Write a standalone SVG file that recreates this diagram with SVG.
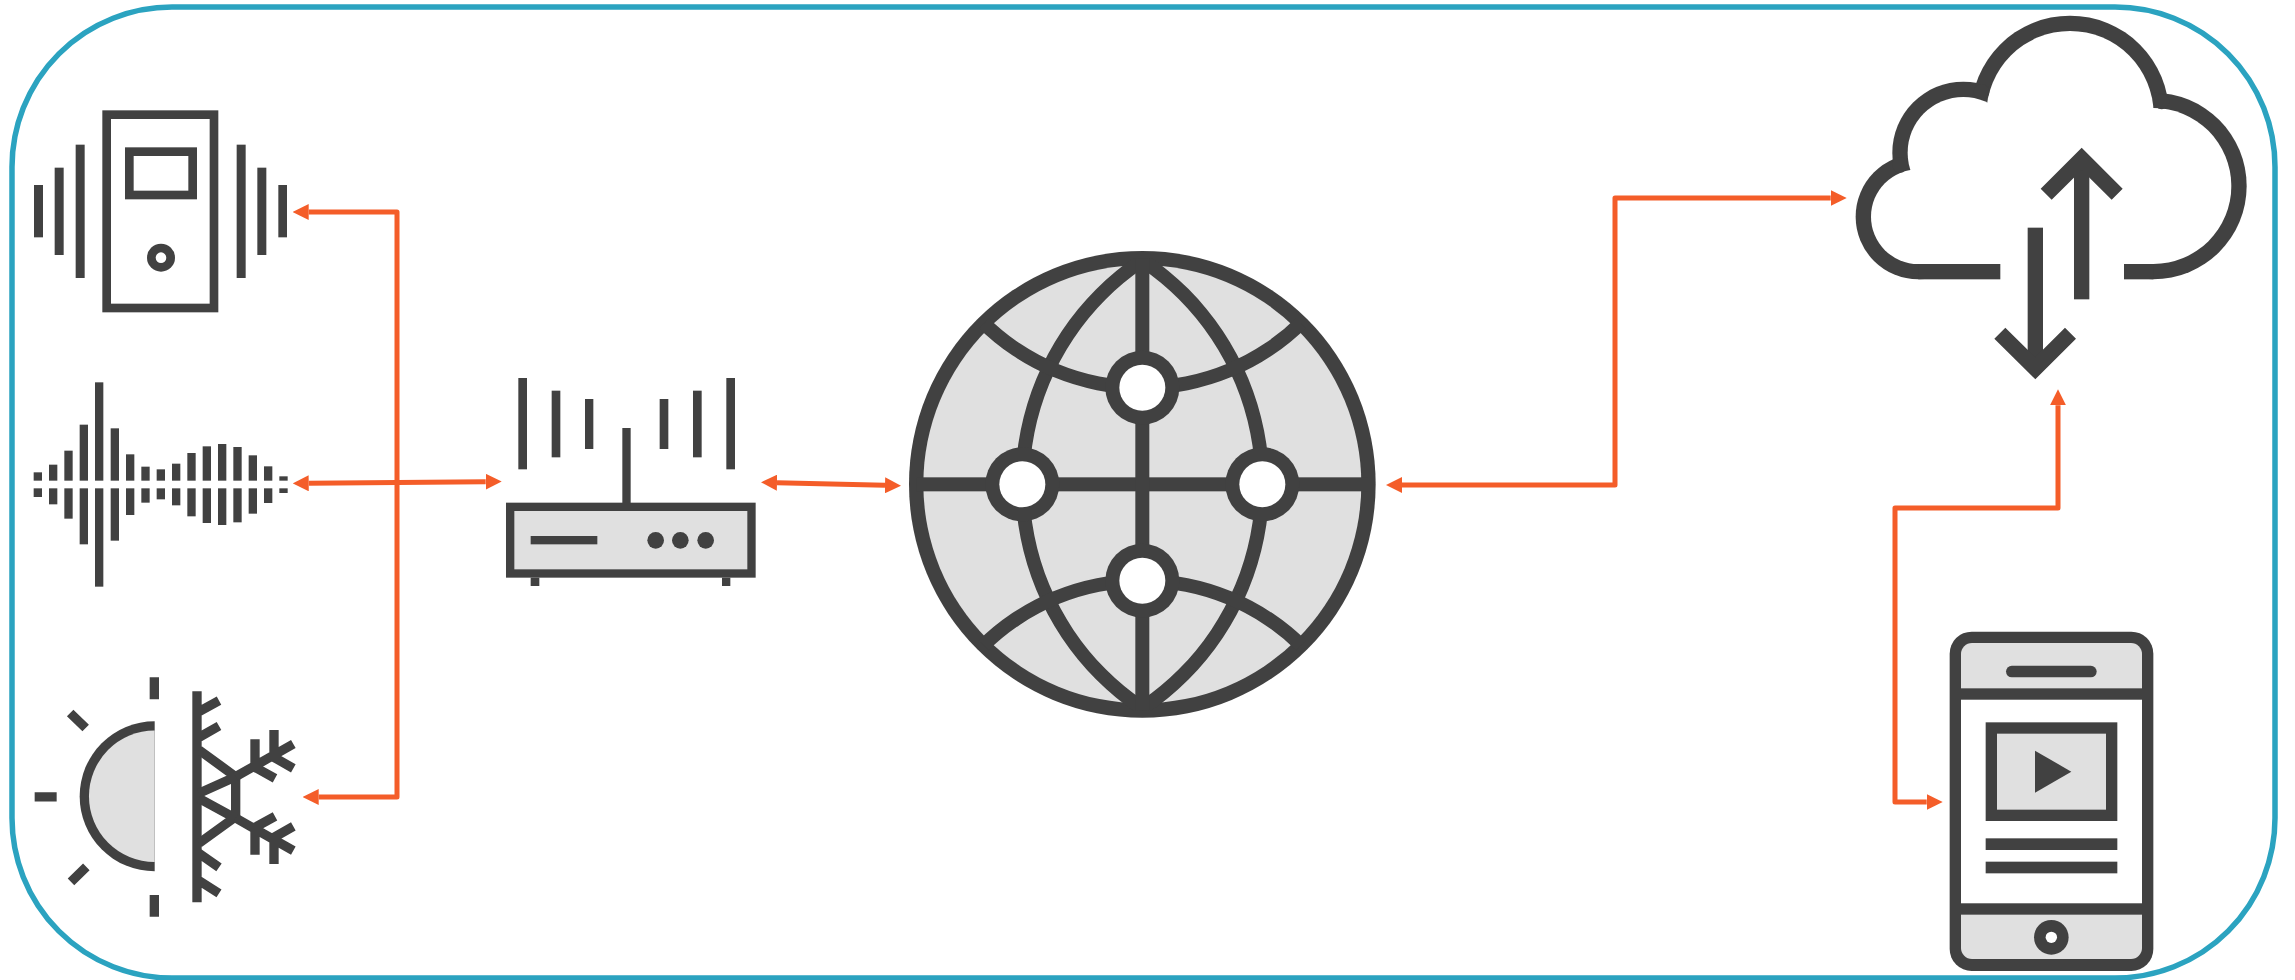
<svg xmlns="http://www.w3.org/2000/svg" width="2295" height="980" viewBox="0 0 2295 980">
<style>
.d{fill:#414141}
.l{fill:#e0e0e0}
.h{fill:#fff}
.s{fill:none;stroke:#414141}
.g{fill:#e0e0e0;stroke:#414141}
.c{fill:none;stroke:#f45d29;stroke-width:5;stroke-linejoin:round;marker-start:url(#ah);marker-end:url(#ah)}
</style>
<defs>
<marker id="ah" markerUnits="userSpaceOnUse" viewBox="0 0 16 16" markerWidth="16" markerHeight="16" refX="0" refY="8" orient="auto-start-reverse"><path d="M0,0L16,8L0,16Z" fill="#f45d29"/></marker>
<clipPath id="gl"><rect x="910" y="250" width="232.330" height="470"/></clipPath>
<clipPath id="gr"><rect x="1142.330" y="250" width="232" height="470"/></clipPath>
<clipPath id="gc"><circle cx="1142.330" cy="484.330" r="226"/></clipPath>
</defs>
<rect width="2295" height="980" fill="#fff"/>
<rect id="frame" x="12" y="7" width="2263" height="971" rx="160" ry="160" fill="#fff" stroke="#2ba3c0" stroke-width="5.500"/>

<g id="vibration-sensor">
<g transform="translate(0,80) scale(.33333)">
<rect class="s" x="320" y="104" width="322" height="580" stroke-width="26"/>
<rect class="s" x="388" y="215" width="190" height="130" stroke-width="26"/>
<rect class="d" x="102" y="315" width="27" height="157"/>
<rect class="d" x="164" y="263" width="27" height="262"/>
<rect class="d" x="227" y="194" width="27" height="400"/>
<rect class="d" x="710" y="194" width="27" height="400"/>
<rect class="d" x="772" y="263" width="27" height="262"/>
<rect class="d" x="835" y="315" width="26" height="157"/>
</g>
<circle class="d" cx="161" cy="257.670" r="14"/><circle class="h" cx="161" cy="257.670" r="5.300"/>
</g>

<g id="sound-sensor" transform="translate(0,360) scale(.33333)">
<rect class="d" x="101" y="337" width="25" height="25"/><rect class="d" x="101" y="385" width="25" height="26"/>
<rect class="d" x="147" y="314" width="25" height="48"/><rect class="d" x="147" y="385" width="25" height="48"/>
<rect class="d" x="193" y="272" width="25" height="90"/><rect class="d" x="193" y="385" width="25" height="91"/>
<rect class="d" x="239" y="194" width="25" height="168"/><rect class="d" x="239" y="385" width="25" height="168"/>
<rect class="d" x="285" y="67" width="25" height="295"/><rect class="d" x="285" y="385" width="25" height="295"/>
<rect class="d" x="332" y="205" width="25" height="157"/><rect class="d" x="332" y="385" width="25" height="157"/>
<rect class="d" x="378" y="283" width="25" height="79"/><rect class="d" x="378" y="385" width="25" height="80"/>
<rect class="d" x="424" y="320" width="25" height="42"/><rect class="d" x="424" y="385" width="25" height="43"/>
<rect class="d" x="470" y="328" width="25" height="34"/><rect class="d" x="470" y="385" width="25" height="33"/>
<rect class="d" x="516" y="311" width="25" height="51"/><rect class="d" x="516" y="385" width="25" height="51"/>
<rect class="d" x="562" y="279" width="25" height="83"/><rect class="d" x="562" y="385" width="25" height="84"/>
<rect class="d" x="608" y="259" width="25" height="103"/><rect class="d" x="608" y="385" width="25" height="104"/>
<rect class="d" x="654" y="252" width="25" height="110"/><rect class="d" x="654" y="385" width="25" height="110"/>
<rect class="d" x="700" y="261" width="25" height="101"/><rect class="d" x="700" y="385" width="25" height="102"/>
<rect class="d" x="746" y="286" width="25" height="76"/><rect class="d" x="746" y="385" width="25" height="76"/>
<rect class="d" x="792" y="319" width="25" height="43"/><rect class="d" x="792" y="385" width="25" height="44"/>
<rect class="d" x="838" y="349" width="25" height="13"/><rect class="d" x="838" y="385" width="25" height="14"/>
</g>

<g id="temperature-sensor">
<path class="d" d="M154.670,721.300A75,75 0 0 0 154.670,871.300Z"/>
<path class="l" d="M154.670,730.600A65.700,65.700 0 0 0 154.670,862Z"/>
<g class="s" stroke-width="28" transform="translate(0,650) scale(.33333)">
<path d="M463,82V148M463,735V800M104,440.500H170M210.500,189L257,234M213,695.500L259,650.500"/>
<path d="M591,124V757M597,185L657,152M597,262L657,228M597,610L657,652M597,692L657,730"/>
<path d="M597,300L707,380M597,430L707,380M597,445L707,505M597,580L707,500M707,375V510"/>
<path d="M707,380L880,282M765,345V268M765,352L825,385M822,320V240M822,322L880,355"/>
<path d="M707,504L880,602M765,539V614M765,532L825,499M822,564V642M822,562L880,529"/>
</g>
</g>

<g id="router">
<g transform="translate(480,360) scale(.33333)">
<rect class="d" x="427" y="204" width="25" height="230"/>
<rect class="g" x="90.500" y="440.500" width="724" height="200" stroke-width="25"/>
<rect class="d" x="152" y="653" width="26" height="25"/><rect class="d" x="726" y="653" width="25" height="25"/>
<rect class="d" x="115" y="54" width="26" height="274"/><rect class="d" x="215" y="92" width="26" height="200"/><rect class="d" x="315" y="117" width="25" height="150"/>
<rect class="d" x="539" y="117" width="26" height="150"/><rect class="d" x="639" y="92" width="26" height="200"/><rect class="d" x="739" y="54" width="26" height="274"/>
<rect class="d" x="152" y="528" width="200" height="25"/>
</g>
<circle class="d" cx="655.670" cy="540.330" r="8.330"/><circle class="d" cx="680.330" cy="540.330" r="8.330"/><circle class="d" cx="705.670" cy="540.330" r="8.330"/>
</g>

<g id="globe">
<circle class="d" cx="1142.330" cy="484.330" r="233.330"/>
<circle class="l" cx="1142.330" cy="484.330" r="219"/>
<g clip-path="url(#gc)">
<g clip-path="url(#gl)"><path class="d" fill-rule="evenodd" d="M1015.330,484.330a276,276 0 1 0 552,0a276,276 0 1 0 -552,0ZM1029.330,484.330a262,262 0 1 0 524,0a262,262 0 1 0 -524,0Z"/></g>
<g clip-path="url(#gr)"><path class="d" fill-rule="evenodd" d="M717.330,484.330a276,276 0 1 0 552,0a276,276 0 1 0 -552,0ZM731.330,484.330a262,262 0 1 0 524,0a262,262 0 1 0 -524,0Z"/></g>
<path class="d" fill-rule="evenodd" d="M908.330,160.670a234,234 0 1 0 468,0a234,234 0 1 0 -468,0ZM922.330,160.670a220,220 0 1 0 440,0a220,220 0 1 0 -440,0Z"/>
<path class="d" fill-rule="evenodd" d="M908.330,807.670a234,234 0 1 0 468,0a234,234 0 1 0 -468,0ZM922.330,807.670a220,220 0 1 0 440,0a220,220 0 1 0 -440,0Z"/>
<rect class="d" x="916" y="477.330" width="452" height="14"/>
<rect class="d" x="1135.330" y="258" width="14" height="452"/>
</g>
<circle class="d" cx="1142.330" cy="387.670" r="37"/><circle class="h" cx="1142.330" cy="387.670" r="23"/>
<circle class="d" cx="1022.330" cy="484.330" r="37"/><circle class="h" cx="1022.330" cy="484.330" r="23"/>
<circle class="d" cx="1262.330" cy="484.330" r="37"/><circle class="h" cx="1262.330" cy="484.330" r="23"/>
<circle class="d" cx="1142.330" cy="580.670" r="37"/><circle class="h" cx="1142.330" cy="580.670" r="23"/>
</g>

<g id="cloud">
<circle class="d" cx="1918.330" cy="216.670" r="62.670"/>
<circle class="d" cx="1963.330" cy="152.670" r="71"/>
<circle class="d" cx="2070" cy="114.670" r="99"/>
<circle class="d" cx="2153.330" cy="186" r="93.330"/>
<rect class="d" x="1918.330" y="200" width="235" height="79.330"/>
<circle class="h" cx="1918.330" cy="216.670" r="47.330"/>
<circle class="h" cx="1963.330" cy="152.670" r="55.670"/>
<circle class="h" cx="2070" cy="114.670" r="83.670"/>
<circle class="h" cx="2153.330" cy="186" r="78"/>
<rect class="h" x="1918.330" y="166" width="235" height="98"/>
<circle class="d" cx="1900" cy="165" r="7.670"/>
<circle class="d" cx="1981.670" cy="91.670" r="7.670"/>
<circle class="d" cx="2161.670" cy="101.670" r="7.670"/>
<rect class="h" x="2000.330" y="260" width="123.670" height="22"/>
<g transform="translate(1830,0) scale(.33333)">
<rect class="d" x="732" y="500" width="46" height="398"/>
<path class="d" d="M755,443L878,566L845,599L755,510L665,599L632,566Z"/>
<rect class="d" x="593" y="683" width="46" height="397"/>
<path class="d" d="M616,1138L738,1016L705,983L616,1072L526,983L493,1016Z"/>
</g>
</g>

<g id="phone">
<rect class="d" x="1949.670" y="631.670" width="203.670" height="339.330" rx="22" ry="22"/>
<rect class="l" x="1961" y="643" width="181" height="316" rx="11" ry="11"/>
<g transform="translate(1860,620) scale(.33333)">
<rect x="303" y="239" width="543" height="611" fill="#fff"/>
<rect class="d" x="303" y="205" width="543" height="34"/><rect class="d" x="303" y="850" width="543" height="34"/>
<rect class="g" x="394" y="324" width="361" height="262" stroke-width="34"/>
<path class="d" d="M525,392L634,455L525,518Z"/>
<rect class="d" x="377" y="655" width="395" height="35"/><rect class="d" x="377" y="725" width="395" height="35"/>
</g>
<rect class="d" x="2006" y="665.670" width="90.670" height="11.670" rx="5.830" ry="5.830"/>
<circle class="d" cx="2051.330" cy="937.330" r="17.300"/><circle class="h" cx="2051.330" cy="937.330" r="5.700"/>
</g>

<g id="connectors">
<path class="c" d="M308.700,212H397V797H318.700"/>
<path class="c" d="M308.700,483.300L485.700,481.700"/>
<path class="c" d="M777,482.700L885,485.300"/>
<path class="c" d="M1402,485H1615V198H1830.700"/>
<path class="c" d="M1926.700,802H1895V508H2058V405.300"/>
</g>
</svg>
